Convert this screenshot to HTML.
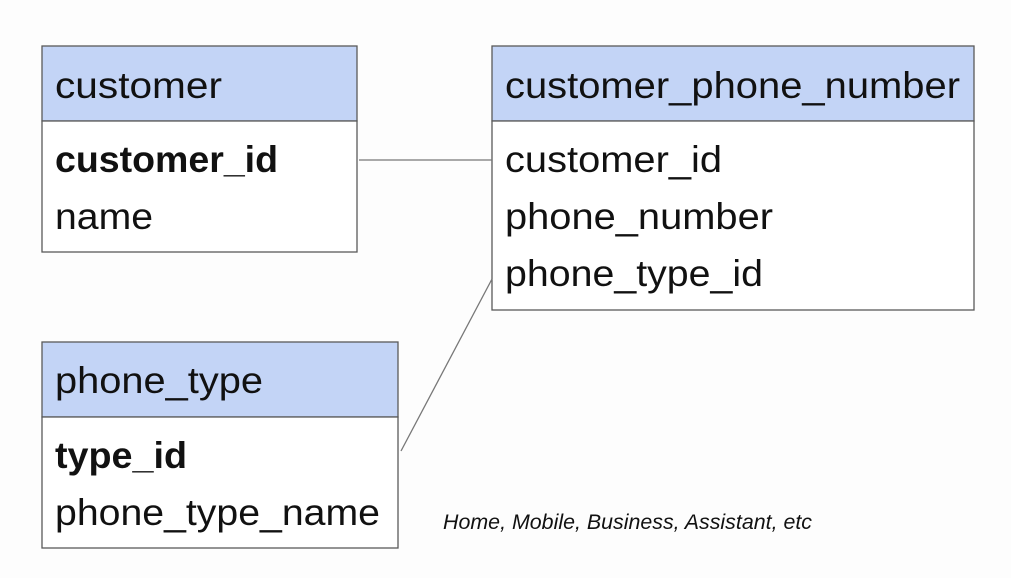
<!DOCTYPE html>
<html><head><meta charset="utf-8"><style>
html,body{margin:0;padding:0;background:#fdfdfd;}
svg{display:block}
text{font-family:"Liberation Sans",sans-serif;fill:#111;}
</style></head><body>
<svg width="1011" height="578" viewBox="0 0 1011 578" xmlns="http://www.w3.org/2000/svg">
<rect width="1011" height="578" fill="#fdfdfd"/>
<g stroke="#5a5a5a" stroke-width="1.3">
<rect x="42" y="46" width="315" height="75" fill="#c3d4f6"/>
<rect x="42" y="121" width="315" height="131" fill="#fff"/>
<rect x="492" y="46" width="482" height="75" fill="#c3d4f6"/>
<rect x="492" y="121" width="482" height="189" fill="#fff"/>
<rect x="42" y="342" width="356" height="75" fill="#c3d4f6"/>
<rect x="42" y="417" width="356" height="131" fill="#fff"/>
<line x1="359" y1="160" x2="492" y2="160" stroke="#777"/>
<line x1="401" y1="451" x2="492" y2="279" stroke="#777"/>
</g>
<g font-size="37">
<text x="55" y="98" textLength="167" lengthAdjust="spacingAndGlyphs">customer</text>
<text x="55" y="172" font-weight="bold" textLength="223" lengthAdjust="spacingAndGlyphs">customer_id</text>
<text x="55" y="229" textLength="98" lengthAdjust="spacingAndGlyphs">name</text>
<text x="505" y="98" textLength="455" lengthAdjust="spacingAndGlyphs">customer_phone_number</text>
<text x="505" y="172" textLength="217" lengthAdjust="spacingAndGlyphs">customer_id</text>
<text x="505" y="229" textLength="268" lengthAdjust="spacingAndGlyphs">phone_number</text>
<text x="505" y="286" textLength="258" lengthAdjust="spacingAndGlyphs">phone_type_id</text>
<text x="55" y="393" textLength="208" lengthAdjust="spacingAndGlyphs">phone_type</text>
<text x="55" y="468" font-weight="bold" textLength="132" lengthAdjust="spacingAndGlyphs">type_id</text>
<text x="55" y="525" textLength="325" lengthAdjust="spacingAndGlyphs">phone_type_name</text>
</g>
<text x="443" y="529" font-size="21" font-style="italic" textLength="369" lengthAdjust="spacingAndGlyphs">Home, Mobile, Business, Assistant, etc</text>
</svg>
</body></html>
